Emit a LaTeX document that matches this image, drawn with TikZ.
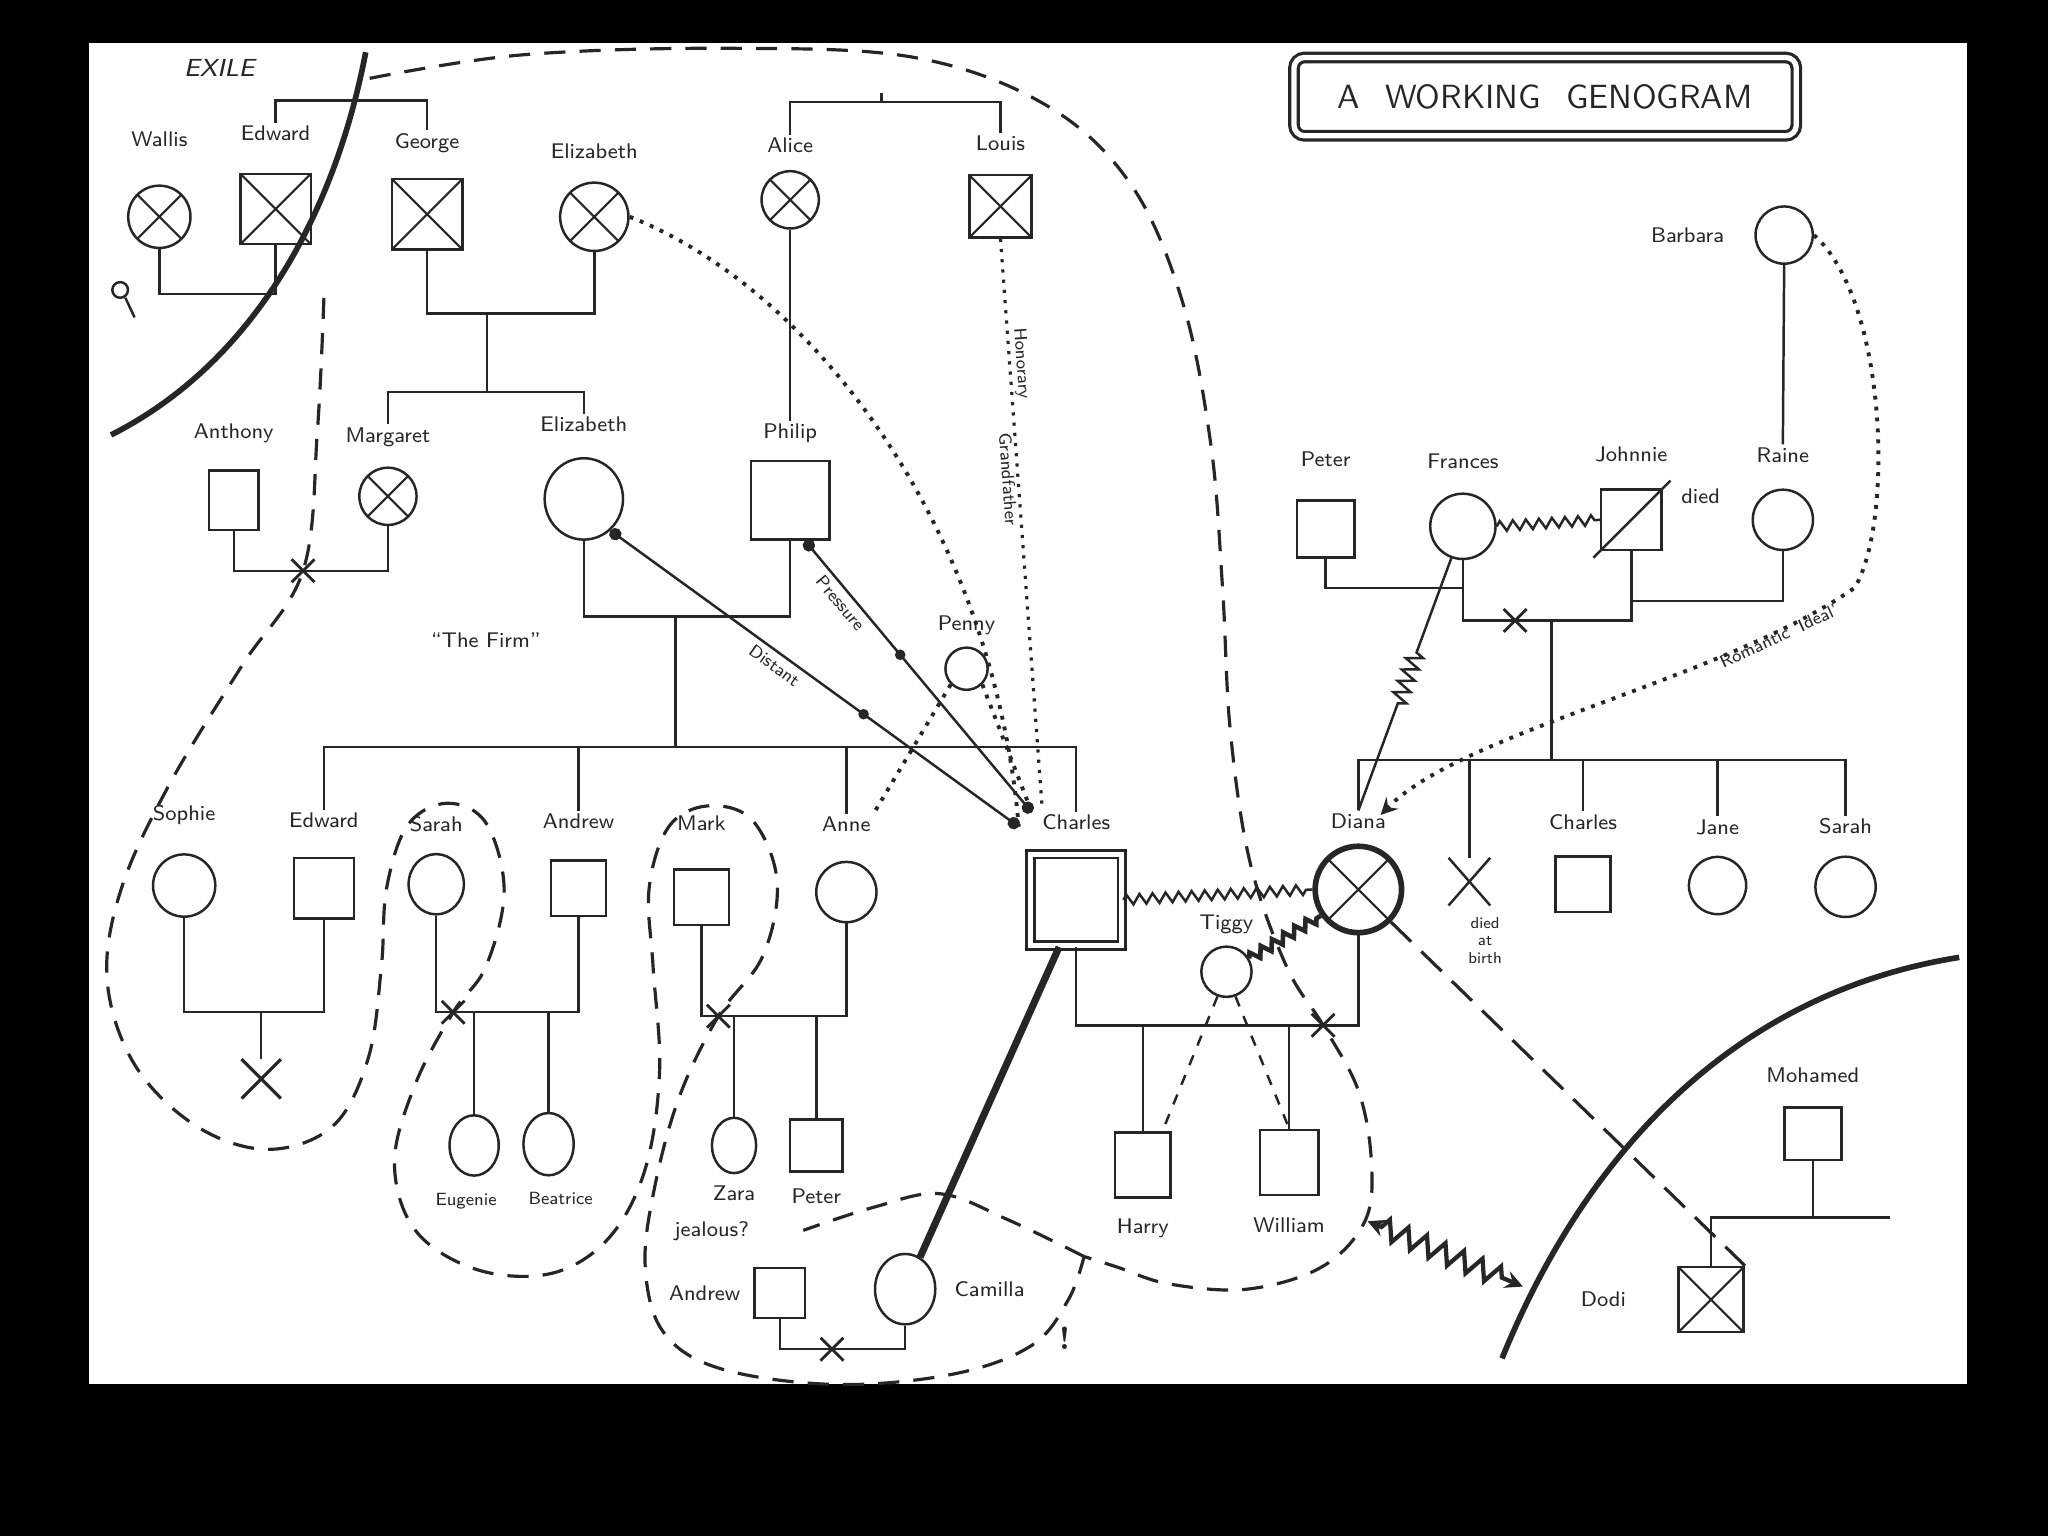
\documentclass[tikz,border=0pt]{standalone}
\usetikzlibrary{shapes.geometric,shapes.misc,decorations.pathmorphing,arrows.meta}
\begin{document}
\begin{tikzpicture}[x=0.13mm, y=-0.13mm, >=stealth, line width=0.7pt, color=black!85,
  label distance=2mm,
  every node/.style={font=\fontsize{6}{7}\selectfont\sffamily},
  lbl/.style={inner sep=0.5pt},
  small/.style={font=\fontsize{5}{6}\selectfont\sffamily},
  male/.style={draw, rectangle, inner sep=0pt, minimum size=#1},
  female/.style={draw, ellipse, inner sep=0pt, minimum size=#1},
  dead/.style={path picture={\draw[line width=0.6pt]
      (path picture bounding box.north west) -- (path picture bounding box.south east)
      (path picture bounding box.south west) -- (path picture bounding box.north east);}},
  divmark/.style={draw, cross out, line width=0.8pt, inner sep=0pt, minimum size=2mm},
  dotmark/.style={circle, fill, inner sep=0pt, minimum size=3pt},
  dotends/.style={{Circle[length=3.5pt]}-{Circle[length=3.5pt]}},
  boundary/.style={dash pattern=on 6pt off 4pt, line width=0.9pt},
  closeline/.style={dotted, line width=1.1pt},
  conflict/.style={decorate, decoration={zigzag, segment length=1.3mm, amplitude=0.5mm}},
  exile/.style={line width=1.6pt},
]
  % frame
  \useasboundingbox (0,0) rectangle (1568,1176);
  \fill[black] (0,0) rectangle (1568,1176);
  \fill[white] (68,33) rectangle (1506,1060);

  % exile lines
  \draw[exile] (85,333) .. controls (190,280) and (255,170) .. (280,40);
  \draw[exile] (1150,1040) .. controls (1215,880) and (1330,760) .. (1500,733);
  \node[font=\fontsize{7}{8}\selectfont\sffamily\itshape] (exile) at (168,52) {EXILE};

  \node[draw, double, double distance=1.5pt, rounded corners=3pt, line width=0.9pt,
    minimum width=50mm, minimum height=7.8mm, font=\fontsize{9.5}{11}\selectfont\sffamily]
    (title) at (1183,74) {A\hspace{2.5mm}WORKING\hspace{2.5mm}GENOGRAM};

  % grandparents
  \node[female=6.2mm, dead, label={[lbl,name=wallis-l,label distance=3.5mm]above:Wallis}] (wallis) at (122,166) {};
  \node[male=7mm, dead, label={[lbl,name=edwardviii-l,label distance=2.9mm]above:Edward}] (edwardviii) at (211,160) {};
  \node[male=7mm, dead, label={[lbl,name=george-l,label distance=2.2mm]above:George}] (george) at (327,164) {};
  \node[female=6.8mm, dead, label={[lbl,name=qmum-l]above:Elizabeth}] (qmum) at (455,166) {};
  \node[female=5.7mm, dead, label={[lbl,name=alice-l,label distance=1.4mm]above:Alice}] (alice) at (605,153) {};
  \node[male=6.2mm, dead, label={[lbl,name=louis-l]above:Louis}] (louis) at (766,158) {};
  \draw (92,222) circle (6);
  \draw (96,228) -- (103,243);

  % parents
  \node[male=4.9mm, minimum height=5.9mm, label={[lbl,name=anthony-l,label distance=2.3mm]above:Anthony}] (anthony) at (179,383) {};
  \node[female=5.7mm, dead, label={[lbl,name=margaret-l,label distance=1.7mm]above:Margaret}] (margaret) at (297,380) {};
  \node[female=7.8mm, minimum height=8.1mm, label={[lbl,name=queen-l,label distance=2.2mm]above:Elizabeth}] (queen) at (447,382) {};
  \node[male=7.8mm, label={[lbl,name=philip-l,label distance=1.4mm]above:Philip}] (philip) at (605,383) {};
  \node[female=4.2mm, label={[lbl,name=penny-l,label distance=0.9mm]above:Penny}] (penny) at (740,512) {};
  \node (firm) at (372,490) {``The Firm''};

  % children
  \node[female=6.2mm, label={[lbl,name=sophie-l,label distance=2.5mm]above:Sophie}] (sophie) at (141,678) {};
  \node[male=6mm, label={[lbl,name=edward-l,label distance=2.6mm]above:Edward}] (edward) at (248,680) {};
  \node[female=5.5mm, minimum height=6mm, label={[lbl,name=sarah-l,label distance=1.8mm]above:Sarah}] (sarah) at (334,677) {};
  \node[male=5.5mm, label={[lbl,name=andrew-l,label distance=2.7mm]above:Andrew}] (andrew) at (443,680) {};
  \node[male=5.5mm, label={[lbl,name=mark-l,label distance=3.5mm]above:Mark}] (mark) at (537,687) {};
  \node[female=6mm, label={[lbl,name=anne-l,label distance=2.6mm]above:Anne}] (anne) at (648,683) {};
  \node[male=9.1mm, double, double distance=1.4pt, line width=0.8pt, label={[lbl,name=charles-l,label distance=2mm]above:Charles}] (charles) at (824,689) {};
  \node[female=8.6mm, dead, line width=1.6pt, label={[lbl,name=diana-l,label distance=1.2mm]above:Diana}] (diana) at (1040,681) {};
  \node[female=5mm, label={[lbl,name=tiggy-l,label distance=0.9mm]above:Tiggy}] (tiggy) at (939,744) {};
  \node[draw, cross out, minimum size=3.6mm, line width=0.9pt] (lost) at (200,826) {};

  % grandchildren
  \node[female=4.9mm, minimum height=6mm, label={[lbl,small,name=eugenie-l,label distance=1.3mm,xshift=-0.8mm]below:Eugenie}] (eugenie) at (363,877) {};
  \node[female=5mm, minimum height=6.2mm, label={[lbl,small,name=beatrice-l,label distance=1.3mm,xshift=1.2mm]below:Beatrice}] (beatrice) at (420,876) {};
  \node[female=4.4mm, minimum height=5.5mm, label={[lbl,name=zara-l,label distance=0.8mm]below:Zara}] (zara) at (562,877) {};
  \node[male=5.2mm, label={[lbl,name=peter-l,label distance=1.3mm]below:Peter}] (peter) at (625,877) {};
  \node[male=5.5mm, minimum height=6.5mm, label={[lbl,name=harry-l,label distance=1.7mm]below:Harry}] (harry) at (875,892) {};
  \node[male=5.8mm, minimum height=6.5mm, label={[lbl,name=william-l,label distance=1.8mm]below:William}] (william) at (987,890) {};
  \node[male=5mm, label={[lbl,name=andrewpb-l,label distance=1mm]left:Andrew}] (andrewpb) at (597,990) {};
  \node[female=6mm, minimum height=7mm, label={[lbl,name=camilla-l,label distance=1.5mm]right:Camilla}] (camilla) at (693,987) {};
  \node (jealous) at (545,943) {jealous?};
  \node[font=\fontsize{9}{10}\selectfont\bfseries] (bang) at (815,1025) {!};

  % Spencer side
  \node[female=5.7mm, label={[lbl,name=barbara-l,label distance=2.7mm]left:Barbara}] (barbara) at (1366,180) {};
  \node[male=5.7mm, label={[lbl,name=peters-l,label distance=2.9mm]above:Peter}] (peters) at (1015,405) {};
  \node[female=6.5mm, label={[lbl,name=frances-l,label distance=2.1mm]above:Frances}] (frances) at (1120,403) {};
  \node[male=6mm, label={[lbl,name=johnnie-l,label distance=2.3mm]above:Johnnie}] (johnnie) at (1249,398) {};
  \node[female=6mm, label={[lbl,name=raine-l,label distance=2.3mm]above:Raine}] (raine) at (1365,398) {};
  \node (johnnie-d) at (1302,380) {died};
  \node[draw, cross out, minimum width=3.9mm, minimum height=4.5mm] (john) at (1125,675) {};
  \node[font=\fontsize{4.5}{5}\selectfont\sffamily, align=center] (john-t) at (1137,720) {died\\at\\birth};
  \node[male=5.5mm, label={[lbl,name=charless-l,label distance=2.3mm]above:Charles}] (charless) at (1212,677) {};
  \node[female=5.7mm, label={[lbl,name=jane-l,label distance=1.8mm]above:Jane}] (jane) at (1315,678) {};
  \node[female=6mm, label={[lbl,name=sarahs-l,label distance=1.8mm]above:Sarah}] (sarahs) at (1413,679) {};
  \node[male=5.7mm, minimum height=5.2mm, label={[lbl,name=mohamed-l,label distance=2.1mm]above:Mohamed}] (mohamed) at (1388,868) {};
  \node[male=6.5mm, dead, label={[lbl,name=dodi-l,label distance=4.8mm]left:Dodi}] (dodi) at (1310,995) {};

  % family lines
  \coordinate (we) at (165,225);
  \coordinate (sib1) at (270,77);
  \coordinate (sib2) at (675,78);
  \coordinate (gq) at (373,240);
  \coordinate (kids1) at (373,300);
  \coordinate (am) at (232,437);
  \coordinate (ep) at (517,472);
  \coordinate (kids2) at (517,572);
  \coordinate (se) at (200,775);
  \coordinate (sa) at (392,775);
  \coordinate (ma) at (592,778);
  \coordinate (cd) at (930,785);
  \coordinate (ac) at (640,1033);
  \coordinate (pf) at (1068,450);
  \coordinate (fj) at (1188,475);
  \coordinate (jr) at (1300,460);
  \coordinate (spk) at (1188,582);
  \coordinate (md) at (1388,932);
  \coordinate (mdend) at (1447,932);

  \draw (wallis.south) |- (we) -| (edwardviii.south);
  \draw (edwardviii-l.north) |- (sib1) -| (george-l.north);
  \draw (alice-l.north) |- (sib2) -| (louis-l.north);
  \draw (sib2) -- ++(0,-7);
  \draw (george.south) |- (gq) -| (qmum.south);
  \draw (gq) -- (kids1);
  \draw (margaret-l.north) |- (kids1) -| (queen-l.north);
  \draw (alice.south) -- (philip-l.north);
  \draw (anthony.south) |- (am) -| (margaret.south);
  \draw (queen.south) |- (ep) -| (philip.south);
  \draw (ep) -- (kids2);
  \draw (edward-l.north) |- (kids2) -| (charles-l.north);
  \draw (andrew-l.north) -- (andrew-l.north |- kids2);
  \draw (anne-l.north) -- (anne-l.north |- kids2);
  \draw (sophie.south) |- (se) -| (edward.south);
  \draw (se) -- (lost.north);
  \draw (sarah.south) |- (sa) -| (andrew.south);
  \draw (eugenie.north) -- (eugenie.north |- sa);
  \draw (beatrice.north) -- (beatrice.north |- sa);
  \draw (mark.south) |- (ma) -| (anne.south);
  \draw (zara.north) -- (zara.north |- ma);
  \draw (peter.north) -- (peter.north |- ma);
  \draw (charles.south) |- (cd) -| (diana.south);
  \draw (harry.north) -- (harry.north |- cd);
  \draw (william.north) -- (william.north |- cd);
  \draw (andrewpb.south) |- (ac) -| (camilla.south);
  \draw (peters.south) |- (pf) -| (frances.south);
  \draw (frances.south) |- (fj) -| (johnnie.south);
  \draw (johnnie.south) |- (jr) -| (raine.south);
  \draw ([shift={(-5,5)}]johnnie.south west) -- ([shift={(6,-6)}]johnnie.north east);
  \draw (barbara.south) -- (raine-l.north);
  \draw (fj) -- (spk);
  \draw (diana-l.north) |- (spk) -| (sarahs-l.north);
  \draw (john.north) -- (john.north |- spk);
  \draw (charless-l.north) -- (charless-l.north |- spk);
  \draw (jane-l.north) -- (jane-l.north |- spk);
  \draw (mohamed.south) -- (md);
  \draw (dodi.north) |- (md) -- (mdend);

  % divorces
  \node[divmark] (am-x) at (am) {};
  \node[divmark] (sa-x) at (347,775) {};
  \node[divmark] (ma-x) at (550,778) {};
  \node[divmark] (cd-x) at (1013,785) {};
  \node[divmark] (fj-x) at (1160,475) {};
  \node[divmark] (ac-x) at (637,1033) {};

  % relationships
  \coordinate (ch-a) at (790,622);
  \coordinate (ch-b) at (780,633);
  \coordinate (ch-c) at (798,620);
  \coordinate (di-a) at (1057,624);
  \coordinate (hw) at (1047,935);
  \coordinate (ex2) at (1166,985);

  \draw[dotends] (queen.-50) -- node[pos=0.42, sloped, below=1pt, lbl, small] {Distant} node[dotmark, pos=0.62] (q-dot) {} (ch-b);
  \draw[dotends] (philip.-70) -- node[pos=0.2, sloped, below=1pt, lbl, small] {Pressure} node[dotmark, pos=0.42] (p-dot) {} (ch-a);
  \draw[closeline] (qmum.east) .. controls (620,220) and (760,400) .. (ch-b);
  \draw[dotted, line width=0.9pt] (louis.south) -- node[pos=0.22, sloped, above, lbl, small] {Honorary} node[pos=0.42, sloped, below, lbl, small] {Grandfather} (ch-c);
  \draw[closeline] (penny.south west) -- (anne-l.north east);
  \draw[closeline] (penny.south east) -- (ch-a);
  \draw[decorate, decoration={zigzag, segment length=1.2mm, amplitude=0.8mm, pre length=10mm, post length=11mm}] (frances.250) -- (diana-l.north);
  \draw[closeline, ->] (barbara.east) .. controls (1445,230) and (1450,400) .. (1420,450) .. controls (1320,520) and (1120,560) .. (di-a);
  \node[lbl, small, rotate=25] (ideal) at (1362,487) {Romantic `Ideal'};
  \draw[conflict] (charles.east) -- (diana.west);
  \draw[conflict] (frances.east) -- (johnnie.west);
  \draw[conflict, line width=1.3pt] (tiggy.30) -- (diana.215);
  \draw[dashed] (tiggy.250) -- (harry.60);
  \draw[dashed] (tiggy.290) -- (william.north);
  \draw[line width=2pt] (charles.250) -- (camilla.65);
  \draw[dash pattern=on 8pt off 4pt, line width=0.9pt] (diana.-45) -- (dodi.north east);
  \draw[<->, line width=1.2pt, decorate, decoration={zigzag, segment length=2mm, amplitude=1mm, pre length=1.5mm, post length=2mm}] (hw) -- (ex2);

  % boundaries
  \draw[boundary] plot[smooth, tension=0.6] coordinates {(283,60) (400,42) (560,37) (700,44) (800,80) (865,140) (905,230) (927,340) (936,450) (942,560) (957,660) (985,740) (1013,785) (1040,835) (1050,890) (1045,935) (1012,970) (955,987) (895,983) (855,970) (830,962)};
  \draw[boundary] plot[smooth, tension=0.6] coordinates {(248,228) (243,330) (232,437) (185,510) (130,600) (93,680) (82,750) (103,815) (150,862) (205,880) (255,862) (282,810) (292,740) (296,680) (312,632) (342,615) (372,630) (386,682) (372,740) (347,775) (318,830) (302,890) (318,942) (365,972) (422,975) (466,948) (494,895) (505,820) (500,740) (497,680) (512,633) (542,617) (576,628) (595,675) (584,732) (550,778) (520,840) (501,910) (494,970) (508,1020) (552,1048) (640,1060) (730,1052) (790,1030) (818,995) (830,962)};
  \draw[boundary] plot[smooth, tension=0.6] coordinates {(830,962) (772,934) (720,914) (670,924) (615,942)};
\end{tikzpicture}
\end{document}
